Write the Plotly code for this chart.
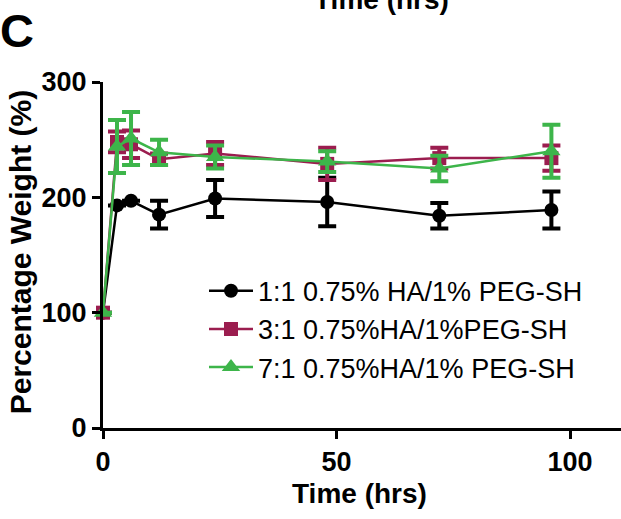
import plotly.graph_objects as go

time_hrs = [0, 3, 6, 12, 24, 48, 72, 96]

ratio_1_1 = [100, 193, 197, 185, 199, 196, 184, 189]
ratio_1_1_err = [0, 0, 0, 12, 16, 21, 11, 16]

ratio_3_1 = [100, 248, 246, 233, 238, 229, 234, 234]
ratio_3_1_err = [0, 9, 12, 5, 10, 14, 9, 11]

ratio_7_1 = [100, 244, 251, 239, 235, 231, 225, 240]
ratio_7_1_err = [0, 23, 23, 11, 10, 9, 11, 23]

series_names = ["1:1 0.75% HA/1% PEG-SH", "3:1 0.75%HA/1%PEG-SH", "7:1 0.75%HA/1% PEG-SH"]
x_ticks = [0, 50, 100]
y_ticks = [0, 100, 200, 300]

colors = ["#000000", "#9B1D4F", "#3DB54A"]
symbols = ["circle", "square", "triangle-up"]
sizes = [14, 14, 16]

fig = go.Figure()
for name, ys, errs, c, s, sz in zip(series_names,
                                    [ratio_1_1, ratio_3_1, ratio_7_1],
                                    [ratio_1_1_err, ratio_3_1_err, ratio_7_1_err],
                                    colors, symbols, sizes):
    fig.add_trace(go.Scatter(
        x=time_hrs, y=ys, name=name, mode="lines+markers",
        line=dict(color=c, width=2.5),
        marker=dict(symbol=s, size=sz, color=c),
        error_y=dict(type="data", array=errs, visible=True, color=c,
                     thickness=4, width=9),
        cliponaxis=False,
    ))

L, T, B = 103, 82, 90.5
W, H = 621, 519
pw = W - L
ph = H - T - B

def px_x(px):
    return (px - L) / pw

def px_y(py):
    return (H - B - py) / ph

fig.update_layout(
    width=W, height=H,
    margin=dict(l=L, r=0, t=T, b=B, autoexpand=False),
    paper_bgcolor="white", plot_bgcolor="white",
    font=dict(family="Liberation Sans, Arial, sans-serif", color="black"),
    showlegend=True,
    legend=dict(
        x=px_x(204), y=px_y(267), xanchor="left", yanchor="top",
        bgcolor="rgba(0,0,0,0)", borderwidth=0,
        font=dict(size=27, color="black"),
        itemwidth=44, tracegroupgap=0,
    ),
    xaxis=dict(
        range=[0, 110.9], tickvals=x_ticks, ticktext=[str(v) for v in x_ticks],
        showline=True, linecolor="black", linewidth=3,
        ticks="outside", ticklen=8, tickwidth=3, tickcolor="black",
        tickfont=dict(size=27, weight="bold"),
        showgrid=False, zeroline=False,
    ),
    yaxis=dict(
        range=[0, 300], tickvals=y_ticks, ticktext=[str(v) for v in y_ticks],
        showline=True, linecolor="black", linewidth=3,
        ticks="outside", ticklen=8, tickwidth=3, tickcolor="black",
        tickfont=dict(size=27, weight="bold"),
        showgrid=False, zeroline=False,
    ),
    annotations=[
        dict(text="Time (hrs)", xref="paper", yref="paper",
             x=px_x(359), y=px_y(494), xanchor="center", yanchor="middle",
             showarrow=False, font=dict(size=28, weight="bold")),
        dict(text="Percentage Weight (%)", xref="paper", yref="paper",
             x=px_x(20.5), y=px_y(252), xanchor="center", yanchor="middle",
             textangle=-90, showarrow=False, font=dict(size=30, weight="bold")),
        dict(text="Time (hrs)", xref="paper", yref="paper",
             x=px_x(381), y=px_y(-1), xanchor="center", yanchor="middle",
             showarrow=False, font=dict(size=28, weight="bold")),
        dict(text="C", xref="paper", yref="paper",
             x=px_x(-2), y=px_y(30), xanchor="left", yanchor="middle",
             showarrow=False, font=dict(size=47, weight="bold")),
    ],
)

fig.write_html("out.html", config={"displayModeBar": False},
               post_script="document.body.style.margin='0';")
